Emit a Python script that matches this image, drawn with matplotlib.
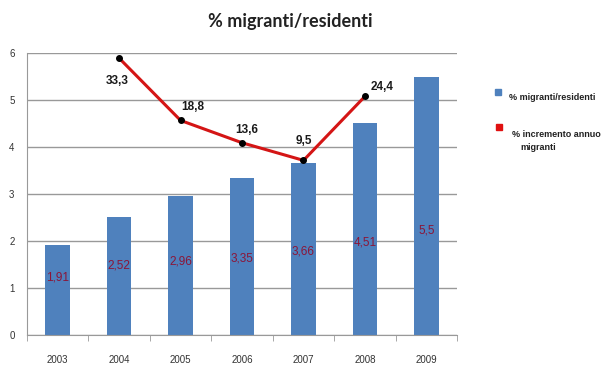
import numpy as np
import matplotlib.pyplot as plt
from matplotlib.lines import Line2D

anni = ['2003', '2004', '2005', '2006', '2007', '2008', '2009']
migranti_residenti = [1.91, 2.52, 2.96, 3.35, 3.66, 4.51, 5.5]
anni_incremento = ['2004', '2005', '2006', '2007', '2008']
incremento_annuo = [33.3, 18.8, 13.6, 9.5, 24.4]

# where the value labels of the bars sit (primary axis units)
label_y = [1.23, 1.49, 1.57, 1.62, 1.77, 1.96, 2.23]
# offsets (points) of the line labels from their markers
line_offsets = [(-1.5, -16.5), (8.6, 10), (3.6, 9.4), (0, 13.7), (12, 6.5)]

sans = ['Liberation Sans', 'DejaVu Sans']

fig = plt.figure(figsize=(6.01, 3.65), dpi=100)
ax = fig.add_axes([0.045, 0.082, 0.7155, 0.7726])

x = np.arange(len(anni))
ax.bar(x, migranti_residenti, width=0.4, color='#4F81BD', zorder=2)
for xi, v, ly in zip(x, migranti_residenti, label_y):
    ax.text(xi, ly, str(v).replace('.', ','), ha='center', va='center',
            color='#8B1538', fontsize=8.5, family=sans, zorder=3)

ax.set_xlim(-0.5, 6.5)
ax.set_ylim(0, 6)
ax.set_yticks(range(7))
ax.set_xticks(x)
ax.set_xticklabels(anni, family=sans)
ax.set_yticklabels(range(7), family=sans)
ax.set_xticks(np.arange(-0.5, 7, 1), minor=True)
ax.tick_params(axis='x', which='major', length=0, labelsize=7, pad=14, colors='#333333')
ax.tick_params(axis='x', which='minor', length=4, color='#999999')
ax.tick_params(axis='y', length=0, labelsize=7, pad=9, colors='#333333')
ax.grid(axis='y', color='#999999', linewidth=1, zorder=0)
for s in ['top', 'right']:
    ax.spines[s].set_visible(False)
for s in ['left', 'bottom']:
    ax.spines[s].set_color('#999999')

# annual increase on a hidden secondary axis
ax2 = ax.twinx()
ax2.set_ylim(-31.2, 34.5)
ax2.axis('off')
xi = [anni.index(a) for a in anni_incremento]
ax2.plot(xi, incremento_annuo, color='#D41515', linewidth=2.2, zorder=4)
ax2.plot(xi, incremento_annuo, 'o', color='black', markersize=4, zorder=5)
for xx, v, off in zip(xi, incremento_annuo, line_offsets):
    ax2.annotate(str(v).replace('.', ','), (xx, v), xytext=off,
                 textcoords='offset points', ha='center', va='center',
                 fontsize=8.5, fontweight='bold', family=sans, color='#1a1a1a')

fig.text(0.483, 0.94, '% migranti/residenti', ha='center', va='center',
         fontsize=13, fontweight='bold', family=['Lato', 'DejaVu Sans'],
         color='#222222')

# legend on the right
fig.add_artist(Line2D([0.828], [1 - 92 / 365], marker='s', markersize=4,
                      color='#4F81BD', transform=fig.transFigure))
fig.text(0.847, 1 - 97 / 365, '% migranti/residenti', fontsize=6.5,
         fontweight='bold', family=sans, va='center', color='#222222')
fig.add_artist(Line2D([0.830], [1 - 127 / 365], marker='s', markersize=4,
                      color='#E01010', transform=fig.transFigure))
fig.text(0.852, 1 - 134 / 365, '% incremento annuo', fontsize=6.5,
         fontweight='bold', family=sans, va='center', color='#222222')
fig.text(0.866, 1 - 147 / 365, 'migranti', fontsize=6.5,
         fontweight='bold', family=sans, va='center', color='#222222')

fig.savefig('out.png', dpi=100)
